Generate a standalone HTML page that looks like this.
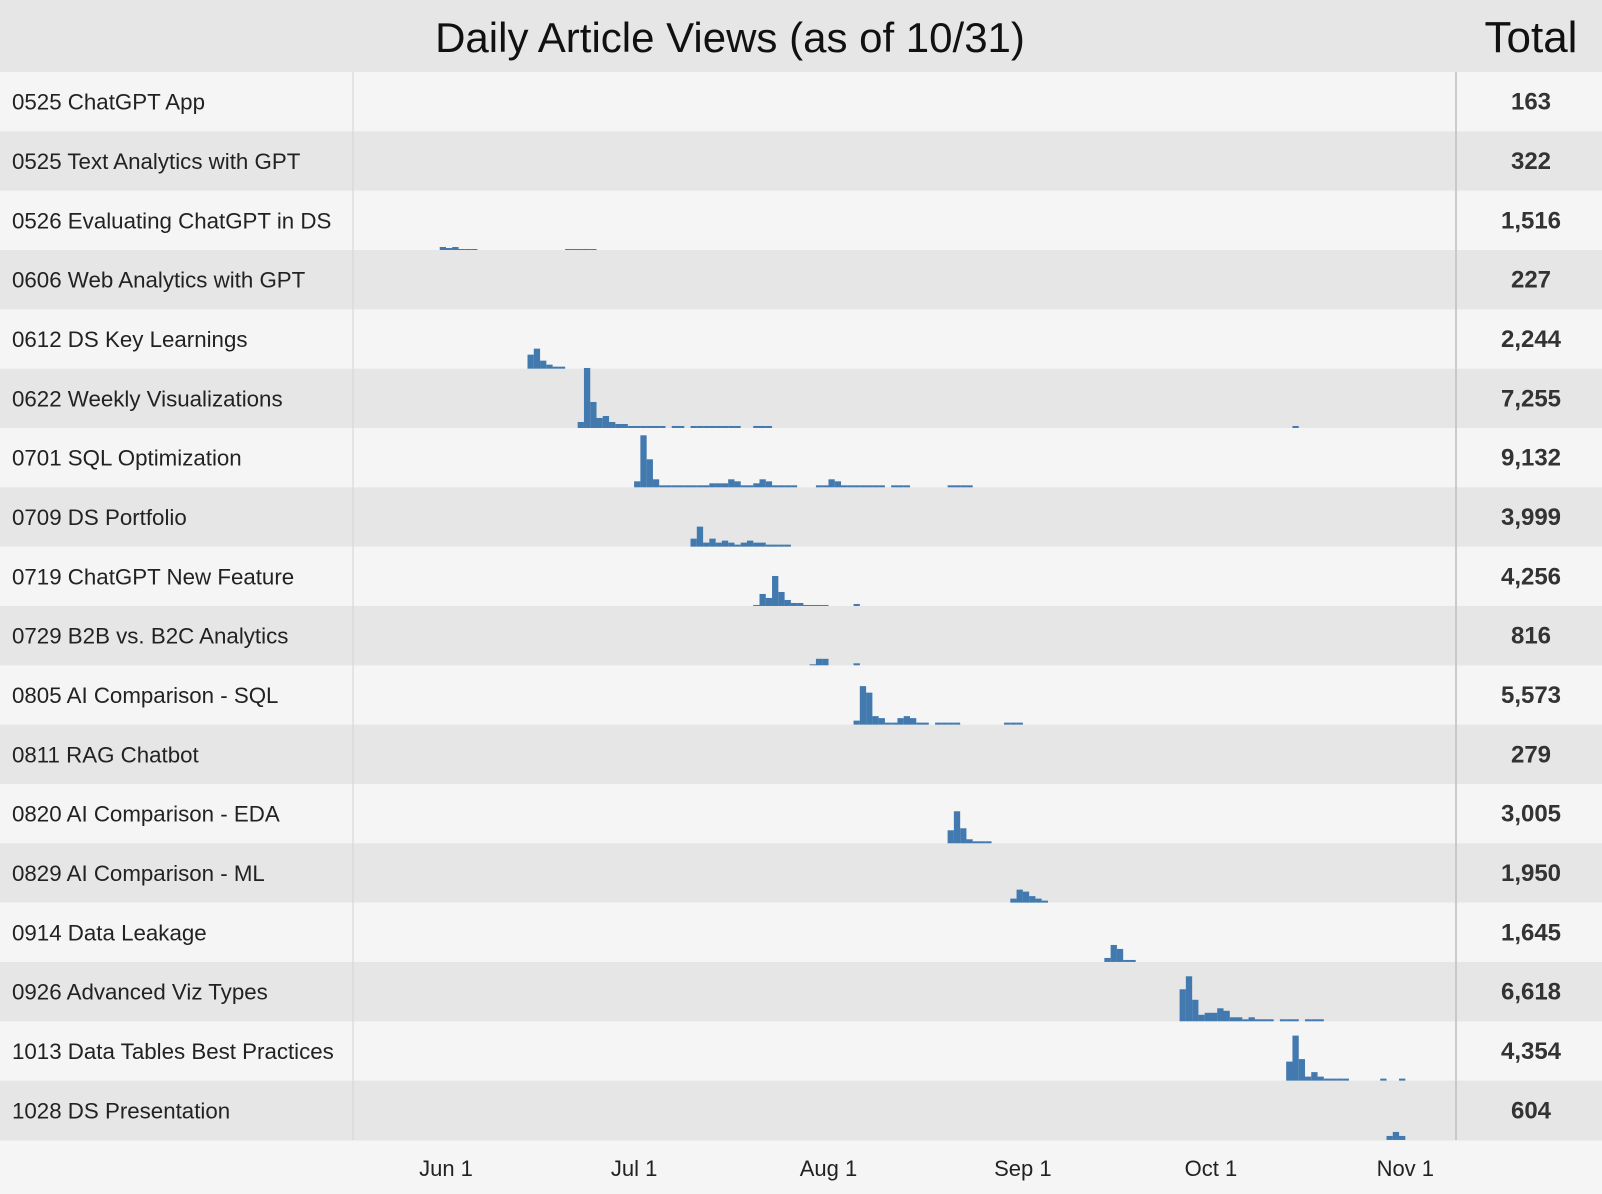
<!DOCTYPE html>
<html><head><meta charset="utf-8">
<style>
html,body{margin:0;padding:0;background:#f5f5f5;}
svg{display:block;font-family:"Liberation Sans",sans-serif;}
</style></head>
<body>
<svg id="chart" width="1602" height="1194" viewBox="0 0 1602 1194">
<rect x="0" y="0" width="1602" height="1194" fill="#f5f5f5"/>
<rect x="0" y="0" width="1602" height="72" fill="#e6e6e6"/>
<text x="730" y="52" font-size="42" text-anchor="middle" fill="#111">Daily Article Views (as of 10/31)</text>
<text x="1531" y="52" font-size="44" text-anchor="middle" fill="#111">Total</text>
<g id="rows"></g>
<g id="bars"></g>
<g id="axis"></g>
</svg>
<script>
const articles = ["0525 ChatGPT App","0525 Text Analytics with GPT","0526 Evaluating ChatGPT in DS","0606 Web Analytics with GPT","0612 DS Key Learnings","0622 Weekly Visualizations","0701 SQL Optimization","0709 DS Portfolio","0719 ChatGPT New Feature","0729 B2B vs. B2C Analytics","0805 AI Comparison - SQL","0811 RAG Chatbot","0820 AI Comparison - EDA","0829 AI Comparison - ML","0914 Data Leakage","0926 Advanced Viz Types","1013 Data Tables Best Practices","1028 DS Presentation"];
const totals = ["163","322","1,516","227","2,244","7,255","9,132","3,999","4,256","816","5,573","279","3,005","1,950","1,645","6,618","4,354","604"];
// daily views: per article, list of [startDay (days since Jun 1), values...]
const dailyViews = [
 [],
 [],
 [[-1,[60,40,60,20,20,20]],[19,[20,20,20,20,20]]],
 [],
 [[13,[280,400,160,80,40,40]]],
 [[21,[120,1200,520,200,240,120,80,80,40,40,40,40,40,40,0,40,40,0,40,40,40,40,40,40,40,40,0,0,40,40,40]],[135,[40]]],
 [[30,[120,1040,560,160,40,40,40,40,40,40,40,40,80,80,80,160,120,40,40,80,160,120,40,40,40,40,0,0,0,40,40,160,120,40,40,40,40,40,40,40,0,40,40,40,0,0,0,0,0,0,40,40,40,40]]],
 [[39,[160,400,80,160,80,120,80,40,80,120,80,80,40,40,40,40]]],
 [[49,[20,240,160,600,280,120,60,60,20,20,20,20,0,0,0,0,40]]],
 [[58,[20,130,130,0,0,0,0,40]]],
 [[65,[80,770,640,170,130,40,40,130,170,130,40,40,0,40,40,40,40,0,0,0,0,0,0,0,40,40,40]]],
 [],
 [[80,[260,640,300,80,40,40,40]]],
 [[90,[80,260,220,130,80,40]]],
 [[105,[80,340,260,40,40]]],
 [[117,[640,900,430,130,170,170,260,210,80,80,40,80,40,40,40,0,40,40,40,0,40,40,40]]],
 [[134,[380,900,430,80,170,80,40,40,40,40]],[149,[40]],[152,[40]]],
 [[150,[80,160,80]]]
];
const tickLabels = ["Jun 1","Jul 1","Aug 1","Sep 1","Oct 1","Nov 1"];
const tickDays = [0,30,61,92,122,153];

const NS="http://www.w3.org/2000/svg";
const top0=72, rowH=59.33, labelW=353, totalX=1456;
const x = d => 446 + d*6.27;
const yH = v => v/20;
function mk(tag, attrs, parent){const e=document.createElementNS(NS,tag);for(const k in attrs)e.setAttribute(k,attrs[k]);parent.appendChild(e);return e;}
const rowsG=document.getElementById('rows'), barsG=document.getElementById('bars'), axisG=document.getElementById('axis');
articles.forEach((name,i)=>{
  const y0=top0+i*rowH;
  const r=mk('rect',{x:0,y:y0,width:1602,height:rowH+0.5,fill:i%2?'#e6e6e6':'#f5f5f5'},rowsG);
  
  
  const t=mk('text',{x:12,y:y0+rowH/2+8,'font-size':22.3,fill:'#222'},rowsG);
  t.textContent=name;
  
  
  const tt=mk('text',{x:1531,y:y0+rowH/2+8,'font-size':24,'font-weight':'bold','text-anchor':'middle',fill:'#333'},rowsG);
  tt.textContent=totals[i];
  
  
  const base=y0+rowH;
  dailyViews[i].forEach(seg=>{
    seg[1].forEach((v,k)=>{
      if(!v) return;
      const d=seg[0]+k, h=yH(v);
      const b=mk('rect',{x:x(d),y:base-h,width:6.3,height:h,fill:'#4279ae'},barsG);
      
      
    });
  });
});
const l1=mk('line',{x1:labelW,y1:72,x2:labelW,y2:top0+18*rowH,stroke:'#d4d4d4','stroke-width':1},axisG);


const l2=mk('line',{x1:totalX,y1:72,x2:totalX,y2:top0+18*rowH,stroke:'#bdbdbd','stroke-width':1.5},axisG);


tickLabels.forEach((lab,i)=>{
  const t=mk('text',{x:x(tickDays[i]),y:1176,'font-size':22,'text-anchor':'middle',fill:'#222'},axisG);
  t.textContent=lab;
  
  
});
</script>
</body></html>
